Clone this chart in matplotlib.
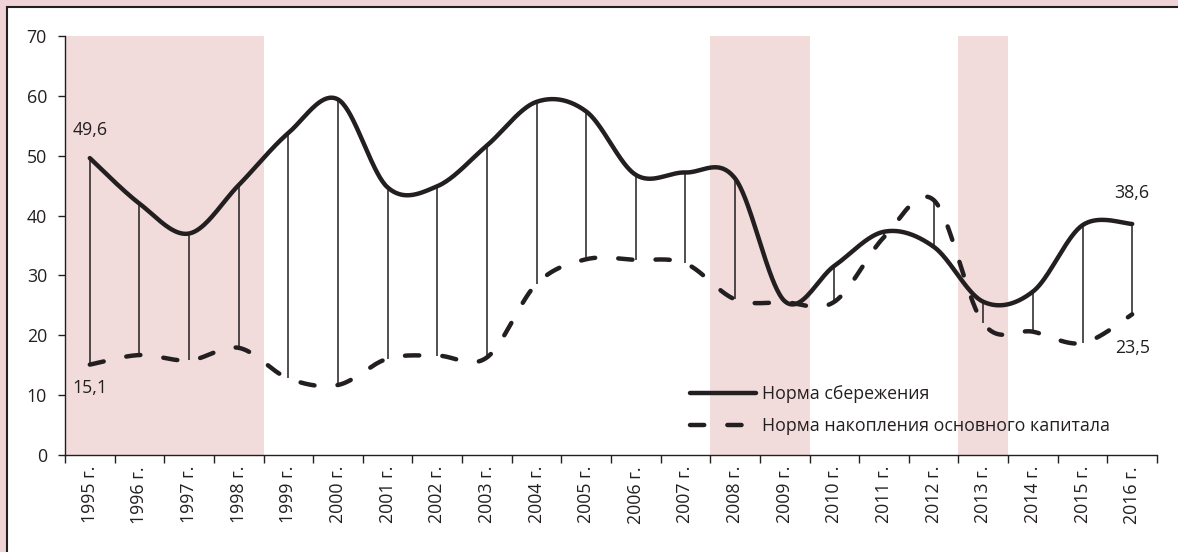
import numpy as np
import matplotlib.pyplot as plt
from matplotlib.patches import Rectangle

plt.rcParams['font.family'] = ['Open Sans', 'DejaVu Sans']

years = ['1995 г.', '1996 г.', '1997 г.', '1998 г.', '1999 г.', '2000 г.',
         '2001 г.', '2002 г.', '2003 г.', '2004 г.', '2005 г.', '2006 г.',
         '2007 г.', '2008 г.', '2009 г.', '2010 г.', '2011 г.', '2012 г.',
         '2013 г.', '2014 г.', '2015 г.', '2016 г.']
savings = [49.6, 42.0, 37.0, 45.1, 53.8, 59.4, 44.7, 44.9, 51.7, 59.0, 57.4,
           46.8, 47.2, 46.2, 25.7, 31.6, 37.3, 34.8, 25.6, 27.3, 38.4, 38.6]
accum = [15.1, 16.7, 15.8, 17.9, 12.8, 11.7, 16.1, 16.6, 16.3, 28.6, 32.7,
         32.6, 32.0, 26.0, 25.5, 25.6, 36.4, 42.6, 22.0, 20.6, 18.7, 23.5]
# crisis periods shaded (first and last year index)
crisis = [(0, 3), (13, 14), (18, 18)]

dark = '#231F20'
shade = '#F2DBDB'
bg = '#EFD3D6'


def smooth(x, y, n=40):
    # excel-like smoothed line: bezier with catmull-rom control points
    pts = np.column_stack([x, y]).astype(float)
    P = np.vstack([pts[0], pts, pts[-1]])
    t = np.linspace(0, 1, n)[:, None]
    out = []
    for i in range(1, len(P) - 2):
        p0, p1, p2, p3 = P[i - 1], P[i], P[i + 1], P[i + 2]
        b1 = p1 + (p2 - p0) / 6
        b2 = p2 - (p3 - p1) / 6
        seg = ((1 - t) ** 3 * p1 + 3 * (1 - t) ** 2 * t * b1
               + 3 * (1 - t) * t ** 2 * b2 + t ** 3 * p2)
        out.append(seg if i == 1 else seg[1:])
    out = np.vstack(out)
    return out[:, 0], out[:, 1]


fig = plt.figure(figsize=(11.78, 5.52), dpi=100)
fig.patch.set_facecolor(bg)
fig.patches.append(Rectangle((7 / 1178, -0.05), 1.1, 1 - 7 / 552 + 0.05,
                             transform=fig.transFigure, facecolor='white',
                             edgecolor=dark, linewidth=1.5, zorder=-5))

ax = fig.add_axes([65 / 1178, 1 - 455 / 552, (1157 - 65) / 1178, (455 - 36) / 552])
ax.set_facecolor('none')

x = np.arange(len(years))
for a, b in crisis:
    ax.axvspan(a - 0.5, b + 0.5, color=shade, lw=0, zorder=0)

ax.vlines(x, accum, savings, color=dark, lw=1.1, zorder=2)

sx, sy = smooth(x, savings)
ax.plot(sx, sy, color=dark, lw=3.2, solid_capstyle='round', zorder=3,
        label='Норма сбережения')
ax_, ay = smooth(x, accum)
ax.plot(ax_, ay, color=dark, lw=3.2, dashes=(3.2, 5.2), dash_capstyle='round',
        zorder=3, label='Норма накопления основного капитала')

fs = 12.8
lab = dict(textcoords='offset points', fontsize=fs, color=dark,
           ha='center', va='center')
ax.annotate('49,6', (x[0], savings[0]), xytext=(0, 20), **lab)
ax.annotate('15,1', (x[0], accum[0]), xytext=(0, -17), **lab)
ax.annotate('38,6', (x[-1], savings[-1]), xytext=(0, 22), **lab)
ax.annotate('23,5', (x[-1], accum[-1]), xytext=(0, -24), **lab)

ax.set_xlim(-0.5, len(years) - 0.5)
ax.set_ylim(0, 70)
ax.set_yticks(np.arange(0, 71, 10))
ax.set_xticks(np.arange(-0.5, len(years), 1.0))
ax.set_xticklabels([])
ax.set_xticks(x, minor=True)
ax.set_xticklabels(years, minor=True, rotation=90)
ax.tick_params(axis='x', which='major', length=6, width=1, color=dark, direction='out')
ax.tick_params(axis='x', which='minor', length=0, pad=8, labelsize=fs, labelcolor=dark)
ax.tick_params(axis='y', length=5, width=1, color=dark, labelsize=fs, labelcolor=dark, pad=8)
for s in ['top', 'right']:
    ax.spines[s].set_visible(False)
for s in ['left', 'bottom']:
    ax.spines[s].set_color(dark)
    ax.spines[s].set_linewidth(1)

ax.legend(loc='upper left', bbox_to_anchor=(690 / 1178, 1 - 385 / 552),
          bbox_transform=fig.transFigure, frameon=False, fontsize=fs,
          handlelength=3.7, labelspacing=0.8, handletextpad=0.35,
          borderpad=0, borderaxespad=0, labelcolor=dark)

fig.savefig('out.png', dpi=100, facecolor=fig.get_facecolor())
